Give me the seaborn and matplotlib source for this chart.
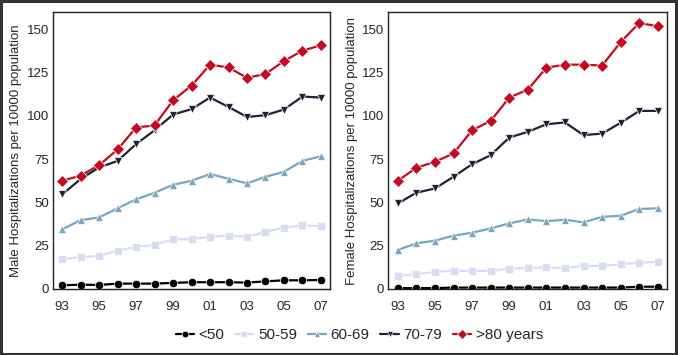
import numpy as np
import pandas as pd
import matplotlib
matplotlib.use("Agg")
import matplotlib.pyplot as plt
import seaborn as sns

# years 1993-2007, shown as two-digit labels
years = list(range(1993, 2008))
tick_years = list(range(1993, 2008, 2))
tick_labels = ['93', '95', '97', '99', '01', '03', '05', '07']

groups = ['<50', '50-59', '60-69', '70-79', '>80 years']

# Male hospitalizations per 10000 population
male_lt50 = [2.1, 2.5, 2.3, 3.1, 3.1, 3.1, 3.5, 3.9, 3.9, 3.9, 3.7, 4.4, 5.0, 5.0, 5.2]
male_50_59 = [17.5, 18.3, 19.2, 22.1, 24.4, 25.4, 28.7, 28.7, 30.2, 30.8, 30.2, 32.9, 35.5, 36.7, 36.3]
male_60_69 = [34.4, 39.8, 41.3, 46.6, 51.8, 55.6, 60.2, 62.5, 66.4, 63.7, 61.0, 64.8, 67.7, 74.0, 76.7]
male_70_79 = [54.6, 63.5, 70.2, 74.0, 83.7, 91.7, 100.8, 103.9, 110.6, 105.2, 99.4, 100.4, 103.7, 111.2, 110.6]
male_gt80 = [62.5, 65.5, 71.5, 80.6, 93.3, 94.5, 109.0, 117.5, 129.6, 128.0, 122.0, 124.2, 131.7, 137.7, 140.8]

# Female hospitalizations per 10000 population
female_lt50 = [0.5, 0.5, 0.5, 0.8, 0.8, 0.8, 0.8, 0.8, 0.8, 0.8, 0.8, 0.8, 0.8, 1.3, 1.3]
female_50_59 = [7.5, 8.5, 9.8, 10.6, 10.4, 10.4, 11.8, 12.0, 12.5, 12.1, 13.3, 13.3, 14.2, 15.2, 15.6]
female_60_69 = [22.5, 26.4, 27.9, 30.8, 32.5, 35.0, 37.9, 40.2, 39.2, 40.0, 38.5, 41.7, 42.3, 46.2, 46.6]
female_70_79 = [49.4, 55.6, 58.1, 64.8, 72.1, 77.3, 87.5, 90.8, 95.2, 96.2, 88.9, 89.8, 96.0, 102.9, 102.9]
female_gt80 = [62.5, 70.0, 73.5, 78.3, 91.7, 97.1, 110.6, 115.2, 127.9, 129.6, 129.6, 129.1, 142.7, 153.7, 151.8]

colors = ['#000000', '#d6ddf3', '#78a6c0', '#1b2436', '#c30a20']
markers = ['o', 's', '^', 'v', 'D']


def make_df(series):
    rows = []
    for g, vals in zip(groups, series):
        for y, v in zip(years, vals):
            rows.append({'year': y, 'group': g, 'rate': v})
    return pd.DataFrame(rows)


male_df = make_df([male_lt50, male_50_59, male_60_69, male_70_79, male_gt80])
female_df = make_df([female_lt50, female_50_59, female_60_69, female_70_79, female_gt80])

sns.set_style('white')
plt.rcParams['font.family'] = ['Liberation Sans', 'DejaVu Sans']

fig = plt.figure(figsize=(6.78, 3.55), dpi=100)
ax1 = fig.add_axes([0.078, 0.186, 0.409, 0.78])
ax2 = fig.add_axes([0.573, 0.186, 0.411, 0.78])

for ax, df, ylabel in [(ax1, male_df, 'Male Hospitalizations per 10000 population'),
                       (ax2, female_df, 'Female Hospitalizations per 10000 population')]:
    sns.lineplot(data=df, x='year', y='rate', hue='group', style='group',
                 hue_order=groups, style_order=groups,
                 palette=colors, markers=markers, dashes=False,
                 markersize=6, linewidth=1.6, markeredgewidth=0.5,
                 ax=ax, legend=(ax is ax1))
    ax.set_xlim(1992.5, 2007.5)
    ax.set_ylim(0, 160)
    ax.set_yticks([0, 25, 50, 75, 100, 125, 150])
    ax.set_xticks(tick_years)
    ax.set_xticklabels(tick_labels)
    ax.tick_params(axis='x', labelsize=9.5, length=0, pad=9)
    ax.tick_params(axis='y', labelsize=9.5, length=0, pad=3)
    ax.set_xlabel('')
    ax.set_ylabel(ylabel, fontsize=9.5, labelpad=3)
    for s in ax.spines.values():
        s.set_color('#222222')
        s.set_linewidth(1.0)

handles, labels = ax1.get_legend_handles_labels()
ax1.get_legend().remove()
fig.legend(handles, labels, loc='center', bbox_to_anchor=(0.53, 0.056), ncol=5,
           frameon=False, fontsize=11, handlelength=1.2, handletextpad=0.3,
           columnspacing=0.7, markerscale=0.8)

# outer frame around the figure
fig.patches.append(plt.Rectangle((0.002, 0.003), 0.995, 0.993, transform=fig.transFigure,
                                 fill=False, edgecolor='#333333', linewidth=2.2))

fig.savefig('out.png', dpi=100)
